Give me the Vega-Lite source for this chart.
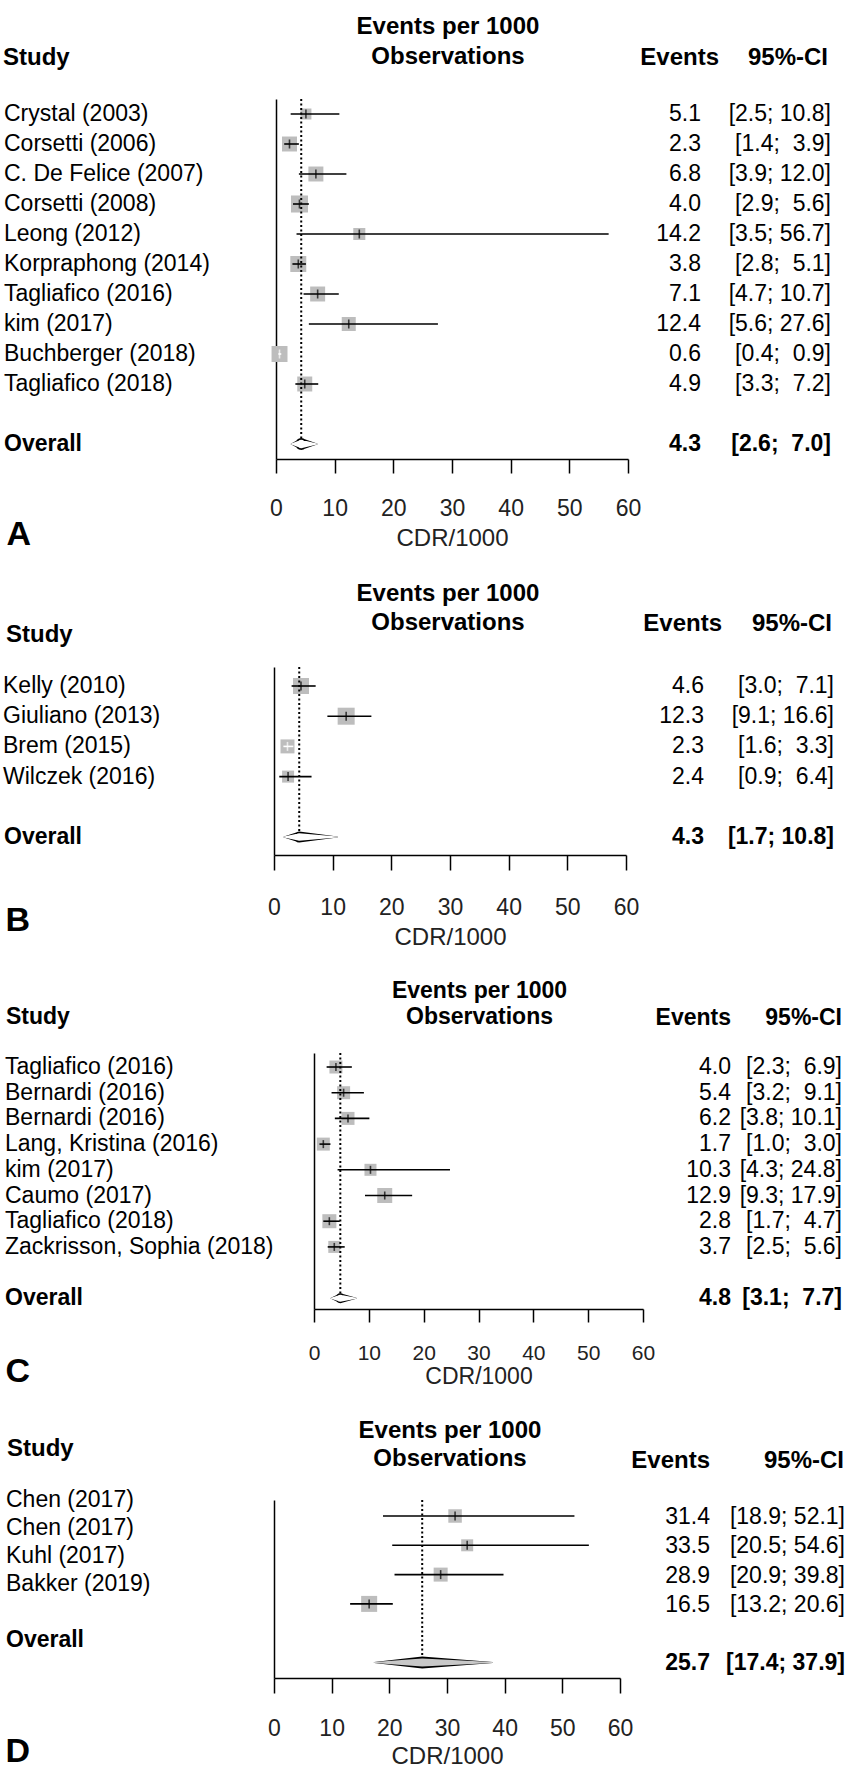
{
"$schema": "https://vega.github.io/schema/vega-lite/v6.json",
"background": "white",
"padding": {"left": 0, "top": 15, "right": 5, "bottom": 10},
"config": {
  "view": {"stroke": null},
  "font": "Liberation Sans",
  "text": {"color": "black", "font": "Liberation Sans"},
  "title": {"color": "black", "fontWeight": "bold", "font": "Liberation Sans"},
  "axis": {"labelFont": "Liberation Sans", "titleFont": "Liberation Sans"}
},
"datasets": {
  "A": [
    {"study": "Crystal (2003)", "row": 0, "est": 5.1, "lo": 2.5, "hi": 10.8, "w": 5.6, "ci": "[2.5; 10.8]"},
    {"study": "Corsetti (2006)", "row": 1, "est": 2.3, "lo": 1.4, "hi": 3.9, "w": 10.4, "ci": "[1.4;\u00a0 3.9]"},
    {"study": "C. De Felice (2007)", "row": 2, "est": 6.8, "lo": 3.9, "hi": 12.0, "w": 10.4, "ci": "[3.9; 12.0]"},
    {"study": "Corsetti (2008)", "row": 3, "est": 4.0, "lo": 2.9, "hi": 5.6, "w": 13.4, "ci": "[2.9;\u00a0 5.6]"},
    {"study": "Leong (2012)", "row": 4, "est": 14.2, "lo": 3.5, "hi": 56.7, "w": 6.7, "ci": "[3.5; 56.7]"},
    {"study": "Korpraphong (2014)", "row": 5, "est": 3.8, "lo": 2.8, "hi": 5.1, "w": 11.8, "ci": "[2.8;\u00a0 5.1]"},
    {"study": "Tagliafico (2016)", "row": 6, "est": 7.1, "lo": 4.7, "hi": 10.7, "w": 10.4, "ci": "[4.7; 10.7]"},
    {"study": "kim (2017)", "row": 7, "est": 12.4, "lo": 5.6, "hi": 27.6, "w": 9.1, "ci": "[5.6; 27.6]"},
    {"study": "Buchberger (2018)", "row": 8, "est": 0.6, "lo": 0.4, "hi": 0.9, "w": 11.8, "ci": "[0.4;\u00a0 0.9]"},
    {"study": "Tagliafico (2018)", "row": 9, "est": 4.9, "lo": 3.3, "hi": 7.2, "w": 10.4, "ci": "[3.3;\u00a0 7.2]"}
  ],
  "A_overall": [{"label": "Overall", "row": 11, "est": 4.3, "lo": 2.6, "hi": 7.0, "ci": "[2.6;\u00a0 7.0]"}],
  "A_diamond": [{"x": 2.6, "v": "lo", "row": 11}, {"x": 4.3, "v": "est", "row": 11}, {"x": 7.0, "v": "hi", "row": 11}],
  "B": [
    {"study": "Kelly (2010)", "row": 0, "est": 4.6, "lo": 3.0, "hi": 7.1, "w": 28.9, "ci": "[3.0;\u00a0 7.1]"},
    {"study": "Giuliano (2013)", "row": 1, "est": 12.3, "lo": 9.1, "hi": 16.6, "w": 32.7, "ci": "[9.1; 16.6]"},
    {"study": "Brem (2015)", "row": 2, "est": 2.3, "lo": 1.6, "hi": 3.3, "w": 22.1, "ci": "[1.6;\u00a0 3.3]"},
    {"study": "Wilczek (2016)", "row": 3, "est": 2.4, "lo": 0.9, "hi": 6.4, "w": 16.3, "ci": "[0.9;\u00a0 6.4]"}
  ],
  "B_overall": [{"label": "Overall", "row": 5, "est": 4.3, "lo": 1.7, "hi": 10.8, "ci": "[1.7; 10.8]"}],
  "B_diamond": [{"x": 1.7, "v": "lo", "row": 5}, {"x": 4.3, "v": "est", "row": 5}, {"x": 10.8, "v": "hi", "row": 5}],
  "C": [
    {"study": "Tagliafico (2016)", "row": 0, "est": 4.0, "lo": 2.3, "hi": 6.9, "w": 12.2, "ci": "[2.3;\u00a0 6.9]"},
    {"study": "Bernardi (2016)", "row": 1, "est": 5.4, "lo": 3.2, "hi": 9.1, "w": 12.2, "ci": "[3.2;\u00a0 9.1]"},
    {"study": "Bernardi (2016)", "row": 2, "est": 6.2, "lo": 3.8, "hi": 10.1, "w": 12.2, "ci": "[3.8; 10.1]"},
    {"study": "Lang, Kristina (2016)", "row": 3, "est": 1.7, "lo": 1.0, "hi": 3.0, "w": 12.2, "ci": "[1.0;\u00a0 3.0]"},
    {"study": "kim (2017)", "row": 4, "est": 10.3, "lo": 4.3, "hi": 24.8, "w": 10.4, "ci": "[4.3; 24.8]"},
    {"study": "Caumo (2017)", "row": 5, "est": 12.9, "lo": 9.3, "hi": 17.9, "w": 16.2, "ci": "[9.3; 17.9]"},
    {"study": "Tagliafico (2018)", "row": 6, "est": 2.8, "lo": 1.7, "hi": 4.7, "w": 14.2, "ci": "[1.7;\u00a0 4.7]"},
    {"study": "Zackrisson, Sophia (2018)", "row": 7, "est": 3.7, "lo": 2.5, "hi": 5.6, "w": 10.4, "ci": "[2.5;\u00a0 5.6]"}
  ],
  "C_overall": [{"label": "Overall", "row": 9, "est": 4.8, "lo": 3.1, "hi": 7.7, "ci": "[3.1;\u00a0 7.7]"}],
  "C_diamond": [{"x": 3.1, "v": "lo", "row": 9}, {"x": 4.8, "v": "est", "row": 9}, {"x": 7.7, "v": "hi", "row": 9}],
  "D": [
    {"study": "Chen (2017)", "row": 0, "est": 31.4, "lo": 18.9, "hi": 52.1, "w": 23.4, "ci": "[18.9; 52.1]"},
    {"study": "Chen (2017)", "row": 1, "est": 33.5, "lo": 20.5, "hi": 54.6, "w": 18.5, "ci": "[20.5; 54.6]"},
    {"study": "Kuhl (2017)", "row": 2, "est": 28.9, "lo": 20.9, "hi": 39.8, "w": 25.2, "ci": "[20.9; 39.8]"},
    {"study": "Bakker (2019)", "row": 3, "est": 16.5, "lo": 13.2, "hi": 20.6, "w": 32.9, "ci": "[13.2; 20.6]"}
  ],
  "D_overall": [{"label": "Overall", "row": 5, "est": 25.7, "lo": 17.4, "hi": 37.9, "ci": "[17.4; 37.9]"}],
  "D_diamond": [{"x": 17.4, "v": "lo", "row": 5}, {"x": 25.7, "v": "est", "row": 5}, {"x": 37.9, "v": "hi", "row": 5}]
},
"spacing": 30,
"resolve": {"scale": {"size": "independent"}},
"vconcat": [
 {
  "spacing": 0, "bounds": "flush",
  "hconcat": [
  {
    "width": 276, "height": 360,
    "title": {"text": "Study", "anchor": "start", "dx": 3, "offset": 5, "fontSize": 24, "baseline": "bottom"},
    "encoding": {
      "x": {"datum": 0, "type": "quantitative", "scale": {"domain": [0, 1]}, "axis": {"orient": "bottom", "domain": false, "ticks": false, "labels": false, "grid": false, "title": "A", "titleFontSize": 34, "titleFontWeight": "bold", "titleColor": "black", "titleAnchor": "start", "titleAlign": "left", "titleBaseline": "top", "titlePadding": 58.6, "titleX": 6}},
      "y": {"field": "row", "type": "quantitative", "scale": {"domain": [-0.5, 11.5], "reverse": true, "nice": false, "zero": false}, "axis": null}
    },
    "layer": [
      {"data": {"name": "A"}, "mark": {"type": "text", "align": "left", "baseline": "middle", "fontSize": 23, "dx": 4}, "encoding": {"text": {"field": "study"}}},
      {"data": {"name": "A_overall"}, "mark": {"type": "text", "align": "left", "baseline": "middle", "fontSize": 23, "dx": 4, "fontWeight": "bold"}, "encoding": {"text": {"field": "label"}}}
    ]
  },
  {
    "width": 352, "height": 360,
    "title": {"text": ["Events per 1000", "Observations"], "anchor": "middle", "dx": -4, "offset": 5, "fontSize": 24, "lineHeight": 30, "baseline": "bottom"},
    "encoding": {
      "y": {"field": "row", "type": "quantitative", "scale": {"domain": [-0.5, 11.5], "reverse": true, "nice": false, "zero": false}, "axis": {"domain": true, "ticks": false, "labels": false, "grid": false, "title": null, "domainColor": "black", "domainWidth": 1.5}}
    },
    "layer": [
      {"data": {"name": "A"}, "mark": {"type": "point", "shape": "square", "filled": true, "color": "#bdbdbd", "opacity": 1},
       "encoding": {
         "x": {"field": "est", "type": "quantitative", "scale": {"domain": [0, 60], "nice": false, "zero": false}, "axis": {"orient": "bottom", "values": [0, 10, 20, 30, 40, 50, 60], "title": "CDR/1000", "grid": false, "domainColor": "black", "domainWidth": 1.5, "tickColor": "black", "tickWidth": 1.5, "tickSize": 14, "labelFontSize": 23, "labelPadding": 24, "labelColor": "#222222", "titleFontSize": 24, "titleFontWeight": "normal", "titleColor": "#222222", "titlePadding": 6.6, "titleBaseline": "top", "labelFlush": false, "labelOverlap": false}},
         "size": {"field": "w", "type": "quantitative", "scale": {"domain": [0, 100], "range": [0, 2160]}, "legend": null}
       }},
      {"data": {"name": "A"}, "mark": {"type": "rule", "strokeWidth": 1.6},
       "encoding": {"x": {"field": "lo", "type": "quantitative"}, "x2": {"field": "hi"}, "color": {"condition": {"test": "datum.hi - datum.lo < 1.8", "value": "white"}, "value": "black"}}},
      {"data": {"name": "A"}, "mark": {"type": "tick", "orient": "vertical", "size": 9, "thickness": 1.6},
       "encoding": {"x": {"field": "est", "type": "quantitative"}, "color": {"condition": {"test": "datum.hi - datum.lo < 1.8", "value": "white"}, "value": "black"}}},
      {"data": {"name": "A_overall"}, "mark": {"type": "rule", "strokeDash": [2, 2.5], "strokeWidth": 2, "color": "black"},
       "encoding": {"x": {"field": "est", "type": "quantitative"}, "y": {"datum": -0.5, "type": "quantitative"}, "y2": {"field": "row"}}},
      {"data": {"name": "A_diamond"}, "mark": {"type": "trail", "fill": "black"},
       "encoding": {"x": {"field": "x", "type": "quantitative"}, "size": {"condition": {"test": "datum.v === 'est'", "value": 12}, "value": 0}}},
      {"data": {"name": "A_diamond"}, "mark": {"type": "trail", "fill": "white"},
       "encoding": {"x": {"field": "x", "type": "quantitative"}, "size": {"condition": {"test": "datum.v === 'est'", "value": 8.5}, "value": 0}}}
    ]
  },
  {
    "width": 73, "height": 360,
    "title": {"text": "Events", "anchor": "end", "dx": 18, "offset": 5, "fontSize": 24, "baseline": "bottom"},
    "encoding": {"x": {"value": "width"}, "y": {"field": "row", "type": "quantitative", "scale": {"domain": [-0.5, 11.5], "reverse": true, "nice": false, "zero": false}, "axis": null}},
    "layer": [
      {"data": {"name": "A"}, "mark": {"type": "text", "align": "right", "baseline": "middle", "fontSize": 23}, "encoding": {"text": {"field": "est", "type": "quantitative", "format": ".1f"}}},
      {"data": {"name": "A_overall"}, "mark": {"type": "text", "align": "right", "baseline": "middle", "fontSize": 23, "fontWeight": "bold"}, "encoding": {"text": {"field": "est", "type": "quantitative", "format": ".1f"}}}
    ]
  },
  {
    "width": 130, "height": 360,
    "title": {"text": "95%-CI", "anchor": "end", "dx": -3, "offset": 5, "fontSize": 24, "baseline": "bottom"},
    "encoding": {"x": {"value": "width"}, "y": {"field": "row", "type": "quantitative", "scale": {"domain": [-0.5, 11.5], "reverse": true, "nice": false, "zero": false}, "axis": null}},
    "layer": [
      {"data": {"name": "A"}, "mark": {"type": "text", "align": "right", "baseline": "middle", "fontSize": 23}, "encoding": {"text": {"field": "ci"}}},
      {"data": {"name": "A_overall"}, "mark": {"type": "text", "align": "right", "baseline": "middle", "fontSize": 23, "fontWeight": "bold"}, "encoding": {"text": {"field": "ci"}}}
    ]
  }
  ]
 },
 {
  "spacing": 0, "bounds": "flush",
  "hconcat": [
  {
    "width": 274, "height": 188,
    "title": {"text": "Study", "anchor": "start", "dx": 6, "offset": -4, "fontSize": 24, "baseline": "bottom"},
    "encoding": {
      "x": {"datum": 0, "type": "quantitative", "scale": {"domain": [0, 1]}, "axis": {"orient": "bottom", "domain": false, "ticks": false, "labels": false, "grid": false, "title": "B", "titleFontSize": 34, "titleFontWeight": "bold", "titleColor": "black", "titleAnchor": "start", "titleAlign": "left", "titleBaseline": "top", "titlePadding": 48.6, "titleX": 5}},
      "y": {"field": "row", "type": "quantitative", "scale": {"domain": [-0.629, 5.596], "reverse": true, "nice": false, "zero": false}, "axis": null}
    },
    "layer": [
      {"data": {"name": "B"}, "mark": {"type": "text", "align": "left", "baseline": "middle", "fontSize": 23, "dx": 3}, "encoding": {"text": {"field": "study"}}},
      {"data": {"name": "B_overall"}, "mark": {"type": "text", "align": "left", "baseline": "middle", "fontSize": 23, "dx": 4, "fontWeight": "bold"}, "encoding": {"text": {"field": "label"}}}
    ]
  },
  {
    "width": 352, "height": 188,
    "title": {"text": ["Events per 1000", "Observations"], "anchor": "middle", "dx": -2, "offset": 7, "fontSize": 24, "lineHeight": 29, "baseline": "bottom"},
    "encoding": {
      "y": {"field": "row", "type": "quantitative", "scale": {"domain": [-0.629, 5.596], "reverse": true, "nice": false, "zero": false}, "axis": {"domain": true, "ticks": false, "labels": false, "grid": false, "title": null, "domainColor": "black", "domainWidth": 1.5}}
    },
    "layer": [
      {"data": {"name": "B"}, "mark": {"type": "point", "shape": "square", "filled": true, "color": "#bdbdbd", "opacity": 1},
       "encoding": {
         "x": {"field": "est", "type": "quantitative", "scale": {"domain": [0, 60], "nice": false, "zero": false}, "axis": {"orient": "bottom", "values": [0, 10, 20, 30, 40, 50, 60], "title": "CDR/1000", "grid": false, "domainColor": "black", "domainWidth": 1.5, "tickColor": "black", "tickWidth": 1.5, "tickSize": 15, "labelFontSize": 23, "labelPadding": 26, "labelColor": "#222222", "titleFontSize": 24, "titleFontWeight": "normal", "titleColor": "#222222", "titlePadding": 6.6, "titleBaseline": "top", "labelFlush": false, "labelOverlap": false}},
         "size": {"field": "w", "type": "quantitative", "scale": {"domain": [0, 100], "range": [0, 885]}, "legend": null}
       }},
      {"data": {"name": "B"}, "mark": {"type": "rule", "strokeWidth": 1.6},
       "encoding": {"x": {"field": "lo", "type": "quantitative"}, "x2": {"field": "hi"}, "color": {"condition": {"test": "datum.hi - datum.lo < 1.8", "value": "white"}, "value": "black"}}},
      {"data": {"name": "B"}, "mark": {"type": "tick", "orient": "vertical", "size": 9, "thickness": 1.6},
       "encoding": {"x": {"field": "est", "type": "quantitative"}, "color": {"condition": {"test": "datum.hi - datum.lo < 1.8", "value": "white"}, "value": "black"}}},
      {"data": {"name": "B_overall"}, "mark": {"type": "rule", "strokeDash": [2, 2.5], "strokeWidth": 2, "color": "black"},
       "encoding": {"x": {"field": "est", "type": "quantitative"}, "y": {"datum": -0.629, "type": "quantitative"}, "y2": {"field": "row"}}},
      {"data": {"name": "B_diamond"}, "mark": {"type": "trail", "fill": "black"},
       "encoding": {"x": {"field": "x", "type": "quantitative"}, "size": {"condition": {"test": "datum.v === 'est'", "value": 11}, "value": 0}}},
      {"data": {"name": "B_diamond"}, "mark": {"type": "trail", "fill": "white"},
       "encoding": {"x": {"field": "x", "type": "quantitative"}, "size": {"condition": {"test": "datum.v === 'est'", "value": 7.5}, "value": 0}}}
    ]
  },
  {
    "width": 78, "height": 188,
    "title": {"text": "Events", "anchor": "end", "dx": 18, "offset": 7, "fontSize": 24, "baseline": "bottom"},
    "encoding": {"x": {"value": "width"}, "y": {"field": "row", "type": "quantitative", "scale": {"domain": [-0.629, 5.596], "reverse": true, "nice": false, "zero": false}, "axis": null}},
    "layer": [
      {"data": {"name": "B"}, "mark": {"type": "text", "align": "right", "baseline": "middle", "fontSize": 23}, "encoding": {"text": {"field": "est", "type": "quantitative", "format": ".1f"}}},
      {"data": {"name": "B_overall"}, "mark": {"type": "text", "align": "right", "baseline": "middle", "fontSize": 23, "fontWeight": "bold"}, "encoding": {"text": {"field": "est", "type": "quantitative", "format": ".1f"}}}
    ]
  },
  {
    "width": 130, "height": 188,
    "title": {"text": "95%-CI", "anchor": "end", "dx": -2, "offset": 7, "fontSize": 24, "baseline": "bottom"},
    "encoding": {"x": {"value": "width"}, "y": {"field": "row", "type": "quantitative", "scale": {"domain": [-0.629, 5.596], "reverse": true, "nice": false, "zero": false}, "axis": null}},
    "layer": [
      {"data": {"name": "B"}, "mark": {"type": "text", "align": "right", "baseline": "middle", "fontSize": 23}, "encoding": {"text": {"field": "ci"}}},
      {"data": {"name": "B_overall"}, "mark": {"type": "text", "align": "right", "baseline": "middle", "fontSize": 23, "fontWeight": "bold"}, "encoding": {"text": {"field": "ci"}}}
    ]
  }
  ]
 },
 {
  "spacing": 0, "bounds": "flush",
  "hconcat": [
  {
    "width": 314, "height": 256,
    "title": {"text": "Study", "anchor": "start", "dx": 6, "offset": 1, "fontSize": 23, "baseline": "bottom"},
    "encoding": {
      "x": {"datum": 0, "type": "quantitative", "scale": {"domain": [0, 1]}, "axis": {"orient": "bottom", "domain": false, "ticks": false, "labels": false, "grid": false, "title": "C", "titleFontSize": 34, "titleFontWeight": "bold", "titleColor": "black", "titleAnchor": "start", "titleAlign": "left", "titleBaseline": "top", "titlePadding": 45.6, "titleX": 5}},
      "y": {"field": "row", "type": "quantitative", "scale": {"domain": [-0.545, 9.416], "reverse": true, "nice": false, "zero": false}, "axis": null}
    },
    "layer": [
      {"data": {"name": "C"}, "mark": {"type": "text", "align": "left", "baseline": "middle", "fontSize": 23, "dx": 5}, "encoding": {"text": {"field": "study"}}},
      {"data": {"name": "C_overall"}, "mark": {"type": "text", "align": "left", "baseline": "middle", "fontSize": 23, "dx": 5, "fontWeight": "bold"}, "encoding": {"text": {"field": "label"}}}
    ]
  },
  {
    "width": 329, "height": 256,
    "title": {"text": ["Events per 1000", "Observations"], "anchor": "middle", "dx": 1, "offset": 0, "fontSize": 23, "lineHeight": 26, "baseline": "bottom"},
    "encoding": {
      "y": {"field": "row", "type": "quantitative", "scale": {"domain": [-0.545, 9.416], "reverse": true, "nice": false, "zero": false}, "axis": {"domain": true, "ticks": false, "labels": false, "grid": false, "title": null, "domainColor": "black", "domainWidth": 1.5}}
    },
    "layer": [
      {"data": {"name": "C"}, "mark": {"type": "point", "shape": "square", "filled": true, "color": "#bdbdbd", "opacity": 1},
       "encoding": {
         "x": {"field": "est", "type": "quantitative", "scale": {"domain": [0, 60], "nice": false, "zero": false}, "axis": {"orient": "bottom", "values": [0, 10, 20, 30, 40, 50, 60], "title": "CDR/1000", "grid": false, "domainColor": "black", "domainWidth": 1.5, "tickColor": "black", "tickWidth": 1.5, "tickSize": 13, "labelFontSize": 21, "labelPadding": 20, "labelColor": "#222222", "titleFontSize": 23, "titleFontWeight": "normal", "titleColor": "#222222", "titlePadding": 2, "titleBaseline": "top", "labelFlush": false, "labelOverlap": false}},
         "size": {"field": "w", "type": "quantitative", "scale": {"domain": [0, 100], "range": [0, 1385]}, "legend": null}
       }},
      {"data": {"name": "C"}, "mark": {"type": "rule", "strokeWidth": 1.6},
       "encoding": {"x": {"field": "lo", "type": "quantitative"}, "x2": {"field": "hi"}, "color": {"condition": {"test": "datum.hi - datum.lo < 1.8", "value": "white"}, "value": "black"}}},
      {"data": {"name": "C"}, "mark": {"type": "tick", "orient": "vertical", "size": 8, "thickness": 1.6},
       "encoding": {"x": {"field": "est", "type": "quantitative"}, "color": {"condition": {"test": "datum.hi - datum.lo < 1.8", "value": "white"}, "value": "black"}}},
      {"data": {"name": "C_overall"}, "mark": {"type": "rule", "strokeDash": [2, 2.5], "strokeWidth": 2, "color": "black"},
       "encoding": {"x": {"field": "est", "type": "quantitative"}, "y": {"datum": -0.545, "type": "quantitative"}, "y2": {"field": "row"}}},
      {"data": {"name": "C_diamond"}, "mark": {"type": "trail", "fill": "black"},
       "encoding": {"x": {"field": "x", "type": "quantitative"}, "size": {"condition": {"test": "datum.v === 'est'", "value": 10}, "value": 0}}},
      {"data": {"name": "C_diamond"}, "mark": {"type": "trail", "fill": "white"},
       "encoding": {"x": {"field": "x", "type": "quantitative"}, "size": {"condition": {"test": "datum.v === 'est'", "value": 7}, "value": 0}}}
    ]
  },
  {
    "width": 88, "height": 256,
    "title": {"text": "Events", "anchor": "end", "dx": 0, "offset": 0, "fontSize": 23, "baseline": "bottom"},
    "encoding": {"x": {"value": "width"}, "y": {"field": "row", "type": "quantitative", "scale": {"domain": [-0.545, 9.416], "reverse": true, "nice": false, "zero": false}, "axis": null}},
    "layer": [
      {"data": {"name": "C"}, "mark": {"type": "text", "align": "right", "baseline": "middle", "fontSize": 23}, "encoding": {"text": {"field": "est", "type": "quantitative", "format": ".1f"}}},
      {"data": {"name": "C_overall"}, "mark": {"type": "text", "align": "right", "baseline": "middle", "fontSize": 23, "fontWeight": "bold"}, "encoding": {"text": {"field": "est", "type": "quantitative", "format": ".1f"}}}
    ]
  },
  {
    "width": 111, "height": 256,
    "title": {"text": "95%-CI", "anchor": "end", "dx": 0, "offset": 0, "fontSize": 23, "baseline": "bottom"},
    "encoding": {"x": {"value": "width"}, "y": {"field": "row", "type": "quantitative", "scale": {"domain": [-0.545, 9.416], "reverse": true, "nice": false, "zero": false}, "axis": null}},
    "layer": [
      {"data": {"name": "C"}, "mark": {"type": "text", "align": "right", "baseline": "middle", "fontSize": 23}, "encoding": {"text": {"field": "ci"}}},
      {"data": {"name": "C_overall"}, "mark": {"type": "text", "align": "right", "baseline": "middle", "fontSize": 23, "fontWeight": "bold"}, "encoding": {"text": {"field": "ci"}}}
    ]
  }
  ]
 },
 {
  "spacing": 0, "bounds": "flush",
  "hconcat": [
  {
    "width": 274, "height": 178,
    "title": {"text": "Study", "anchor": "start", "dx": 7, "offset": 3.6, "fontSize": 24, "baseline": "bottom"},
    "encoding": {
      "x": {"datum": 0, "type": "quantitative", "scale": {"domain": [0, 1]}, "axis": {"orient": "bottom", "domain": false, "ticks": false, "labels": false, "grid": false, "title": "D", "titleFontSize": 34, "titleFontWeight": "bold", "titleColor": "black", "titleAnchor": "start", "titleAlign": "left", "titleBaseline": "top", "titlePadding": 56, "titleX": 5}},
      "y": {"field": "row", "type": "quantitative", "scale": {"domain": [0, 6.357], "reverse": true, "nice": false, "zero": false}, "axis": null}
    },
    "layer": [
      {"data": {"name": "D"}, "mark": {"type": "text", "align": "left", "baseline": "middle", "fontSize": 23, "dx": 6}, "encoding": {"text": {"field": "study"}}},
      {"data": {"name": "D_overall"}, "mark": {"type": "text", "align": "left", "baseline": "middle", "fontSize": 23, "dx": 6, "fontWeight": "bold"}, "encoding": {"text": {"field": "label"}}}
    ]
  },
  {
    "width": 346, "height": 178,
    "title": {"text": ["Events per 1000", "Observations"], "anchor": "middle", "dx": 3, "offset": 4, "fontSize": 24, "lineHeight": 28, "baseline": "bottom"},
    "encoding": {
      "y": {"field": "row", "type": "quantitative", "scale": {"domain": [-0.546, 5.529], "reverse": true, "nice": false, "zero": false}, "axis": {"domain": true, "ticks": false, "labels": false, "grid": false, "title": null, "domainColor": "black", "domainWidth": 1.5}}
    },
    "layer": [
      {"data": {"name": "D"}, "mark": {"type": "point", "shape": "square", "filled": true, "color": "#bdbdbd", "opacity": 1},
       "encoding": {
         "x": {"field": "est", "type": "quantitative", "scale": {"domain": [0, 60], "nice": false, "zero": false}, "axis": {"orient": "bottom", "values": [0, 10, 20, 30, 40, 50, 60], "title": "CDR/1000", "grid": false, "domainColor": "black", "domainWidth": 1.5, "tickColor": "black", "tickWidth": 1.5, "tickSize": 15, "labelFontSize": 23, "labelPadding": 24, "labelColor": "#222222", "titleFontSize": 24, "titleFontWeight": "normal", "titleColor": "#222222", "titlePadding": 4.6, "titleBaseline": "top", "labelFlush": false, "labelOverlap": false}},
         "size": {"field": "w", "type": "quantitative", "scale": {"domain": [0, 100], "range": [0, 778]}, "legend": null}
       }},
      {"data": {"name": "D"}, "mark": {"type": "rule", "strokeWidth": 1.6},
       "encoding": {"x": {"field": "lo", "type": "quantitative"}, "x2": {"field": "hi"}, "color": {"condition": {"test": "datum.hi - datum.lo < 1.8", "value": "white"}, "value": "black"}}},
      {"data": {"name": "D"}, "mark": {"type": "tick", "orient": "vertical", "size": 9, "thickness": 1.6},
       "encoding": {"x": {"field": "est", "type": "quantitative"}, "color": {"condition": {"test": "datum.hi - datum.lo < 1.8", "value": "white"}, "value": "black"}}},
      {"data": {"name": "D_overall"}, "mark": {"type": "rule", "strokeDash": [2, 2.5], "strokeWidth": 2, "color": "black"},
       "encoding": {"x": {"field": "est", "type": "quantitative"}, "y": {"datum": -0.546, "type": "quantitative"}, "y2": {"field": "row"}}},
      {"data": {"name": "D_diamond"}, "mark": {"type": "trail", "fill": "black"},
       "encoding": {"x": {"field": "x", "type": "quantitative"}, "size": {"condition": {"test": "datum.v === 'est'", "value": 12}, "value": 0}}},
      {"data": {"name": "D_diamond"}, "mark": {"type": "trail", "fill": "#c8c8c8"},
       "encoding": {"x": {"field": "x", "type": "quantitative"}, "size": {"condition": {"test": "datum.v === 'est'", "value": 8}, "value": 0}}}
    ]
  },
  {
    "width": 90, "height": 178,
    "title": {"text": "Events", "anchor": "end", "dx": 0, "offset": 3, "fontSize": 24, "baseline": "bottom"},
    "encoding": {"x": {"value": "width"}, "y": {"field": "row", "type": "quantitative", "scale": {"domain": [-0.58, 5.495], "reverse": true, "nice": false, "zero": false}, "axis": null}},
    "layer": [
      {"data": {"name": "D"}, "mark": {"type": "text", "align": "right", "baseline": "middle", "fontSize": 23}, "encoding": {"text": {"field": "est", "type": "quantitative", "format": ".1f"}}},
      {"data": {"name": "D_overall"}, "mark": {"type": "text", "align": "right", "baseline": "middle", "fontSize": 23, "fontWeight": "bold"}, "encoding": {"text": {"field": "est", "type": "quantitative", "format": ".1f"}}}
    ]
  },
  {
    "width": 135, "height": 178,
    "title": {"text": "95%-CI", "anchor": "end", "dx": -1, "offset": 3, "fontSize": 24, "baseline": "bottom"},
    "encoding": {"x": {"value": "width"}, "y": {"field": "row", "type": "quantitative", "scale": {"domain": [-0.58, 5.495], "reverse": true, "nice": false, "zero": false}, "axis": null}},
    "layer": [
      {"data": {"name": "D"}, "mark": {"type": "text", "align": "right", "baseline": "middle", "fontSize": 23}, "encoding": {"text": {"field": "ci"}}},
      {"data": {"name": "D_overall"}, "mark": {"type": "text", "align": "right", "baseline": "middle", "fontSize": 23, "fontWeight": "bold"}, "encoding": {"text": {"field": "ci"}}}
    ]
  }
  ]
 }
]
}
